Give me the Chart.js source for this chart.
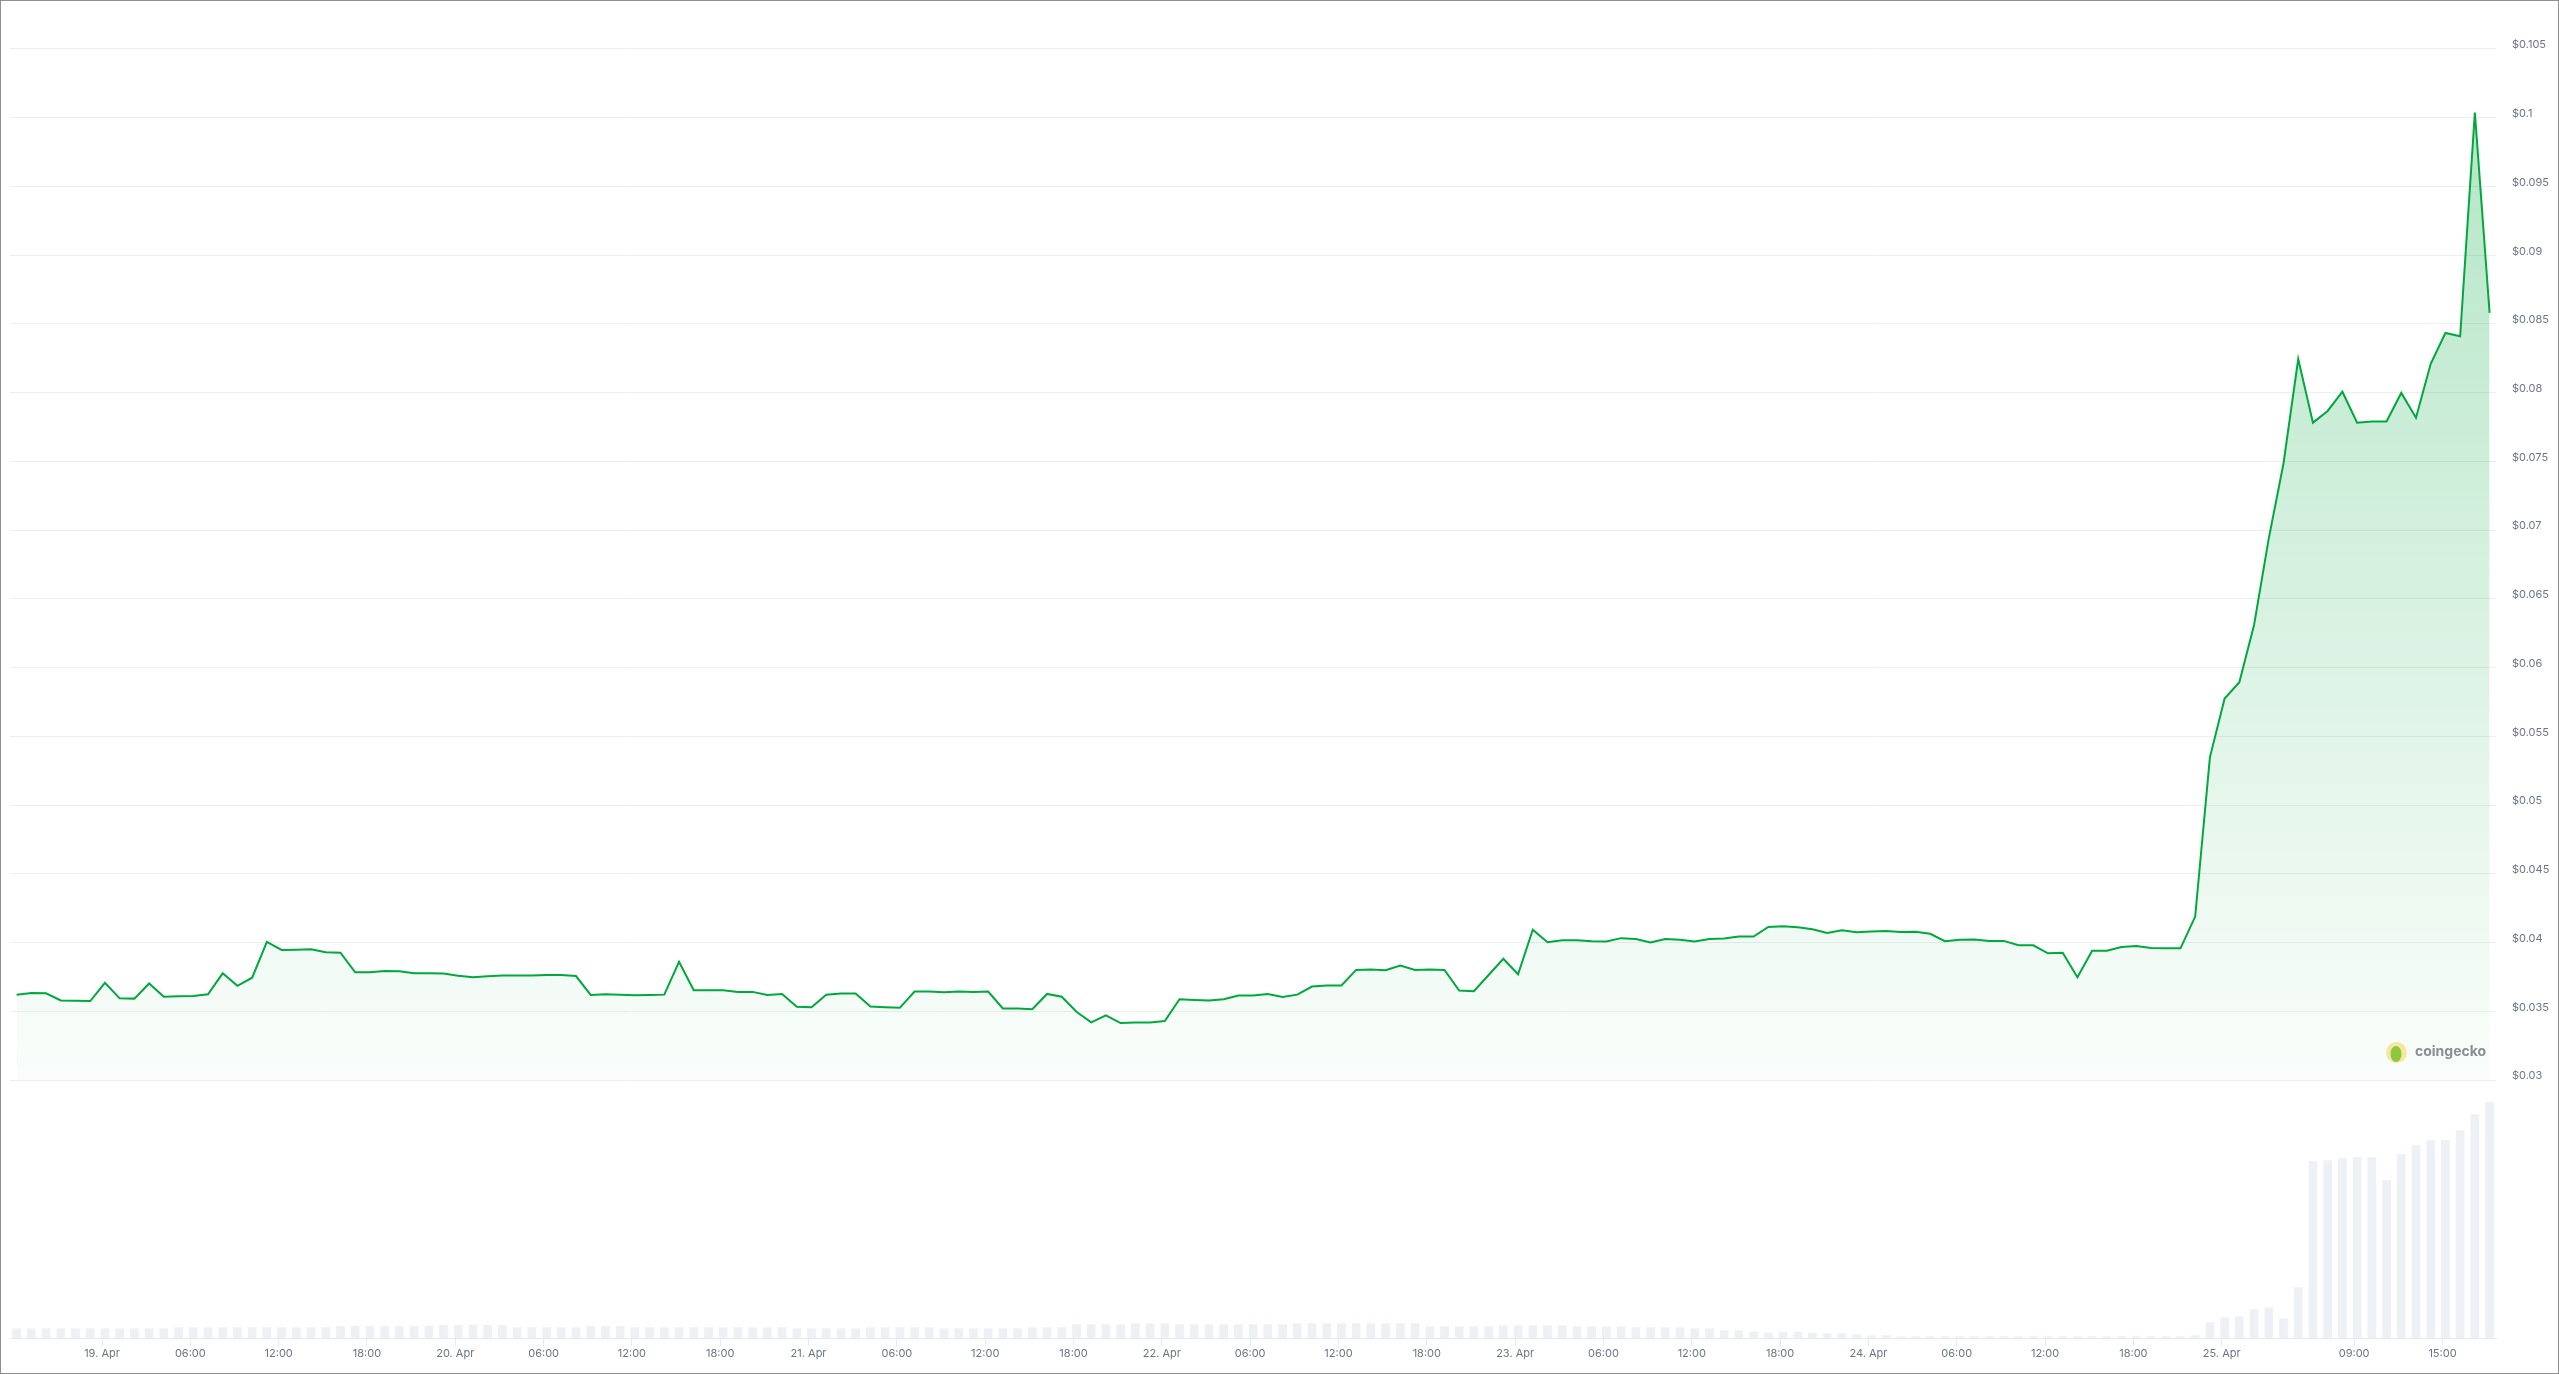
<!DOCTYPE html>
<html>
<head>
<meta charset="utf-8">
<title>Price chart</title>
<script src="https://cdn.jsdelivr.net/npm/chart.js@4.4.1/dist/chart.umd.min.js"></script>
<style>
html, body { margin: 0; padding: 0; background: #fff; }
#wrap { width: 2559px; height: 1374px; }
</style>
</head>
<body>
<div id="wrap"><canvas id="priceChart" width="2559" height="1374"></canvas></div>
<script>
// hourly samples, hours counted from 19 Apr 00:00 (first one is 18 Apr ~18:12)
const firstHour = -5.8;

const prices = [
    0.03621, 0.03633, 0.03631, 0.03579, 0.03577, 0.03574, 0.03707, 0.03594, 0.03592, 0.03702,
    0.03606, 0.03609, 0.03611, 0.03624, 0.03776, 0.03685, 0.03744, 0.04005, 0.03946, 0.03948,
    0.03951, 0.03929, 0.03926, 0.03783, 0.03783, 0.03793, 0.03791, 0.03776, 0.03776, 0.03774,
    0.03759, 0.03747, 0.03754, 0.03761, 0.03761, 0.03761, 0.03764, 0.03764, 0.03756, 0.03619,
    0.03624, 0.03621, 0.03616, 0.03619, 0.03621, 0.03860, 0.03653, 0.03653, 0.03653, 0.03641,
    0.03641, 0.03619, 0.03626, 0.03533, 0.03530, 0.03621, 0.03629, 0.03629, 0.03535, 0.03530,
    0.03525, 0.03643, 0.03643, 0.03638, 0.03643, 0.03641, 0.03643, 0.03520, 0.03520, 0.03515,
    0.03626, 0.03606, 0.03496, 0.03419, 0.03471, 0.03414, 0.03419, 0.03419, 0.03429, 0.03587,
    0.03582, 0.03579, 0.03587, 0.03614, 0.03614, 0.03626, 0.03604, 0.03621, 0.03680, 0.03688,
    0.03688, 0.03801, 0.03803, 0.03798, 0.03833, 0.03801, 0.03803, 0.03801, 0.03651, 0.03646,
    0.03764, 0.03882, 0.03769, 0.04093, 0.04002, 0.04017, 0.04017, 0.04010, 0.04007, 0.04032,
    0.04025, 0.04000, 0.04025, 0.04020, 0.04007, 0.04025, 0.04030, 0.04044, 0.04044, 0.04113,
    0.04118, 0.04111, 0.04096, 0.04069, 0.04089, 0.04074, 0.04081, 0.04084, 0.04076, 0.04078,
    0.04064, 0.04010, 0.04020, 0.04022, 0.04012, 0.04012, 0.03980, 0.03980, 0.03922, 0.03926,
    0.03748, 0.03941, 0.03941, 0.03968, 0.03975, 0.03961, 0.03958, 0.03958, 0.04189, 0.05347,
    0.05775, 0.05894, 0.06310, 0.06940, 0.07485, 0.08245, 0.07782, 0.07867, 0.08007, 0.07782,
    0.07790, 0.07790, 0.07998, 0.07817, 0.08210, 0.08434, 0.08410, 0.10038, 0.08580
];

// traded volume per hour (thousand $)
const volumes = [
    93, 93, 93, 93, 93, 93, 93, 93, 93, 93,
    93, 103, 103, 103, 103, 103, 103, 103, 103, 103,
    103, 103, 117, 117, 117, 117, 117, 117, 117, 127,
    127, 127, 127, 127, 103, 103, 103, 103, 103, 117,
    117, 117, 103, 103, 103, 103, 103, 103, 103, 103,
    103, 103, 103, 93, 93, 93, 93, 93, 103, 103,
    103, 103, 103, 93, 93, 93, 93, 93, 93, 103,
    103, 103, 133, 133, 133, 133, 143, 143, 143, 133,
    133, 133, 133, 133, 133, 133, 133, 143, 143, 143,
    143, 143, 143, 143, 143, 143, 113, 113, 113, 113,
    113, 123, 123, 123, 123, 123, 113, 113, 113, 113,
    103, 103, 103, 103, 93, 93, 73, 73, 60, 50,
    60, 60, 50, 43, 43, 33, 23, 23, 13, 13,
    13, 13, 13, 13, 13, 13, 13, 13, 13, 13,
    13, 13, 13, 13, 13, 13, 13, 13, 23, 153,
    203, 213, 283, 303, 193, 503, 1763, 1773, 1793, 1803,
    1803, 1573, 1833, 1923, 1973, 1973, 2073, 2233, 2357
];

const xTickHours = [0, 6, 12, 18, 24, 30, 36, 42, 48, 54, 60, 66, 72, 78, 84, 90, 96, 102, 108, 114, 120, 126, 132, 138, 144, 153, 159];
const xTickLabels = ["19. Apr", "06:00", "12:00", "18:00", "20. Apr", "06:00", "12:00", "18:00", "21. Apr", "06:00", "12:00", "18:00",
    "22. Apr", "06:00", "12:00", "18:00", "23. Apr", "06:00", "12:00", "18:00", "24. Apr", "06:00", "12:00", "18:00", "25. Apr", "09:00", "15:00"];

const priceTicks = [0.03, 0.035, 0.04, 0.045, 0.05, 0.055, 0.06, 0.065, 0.07, 0.075, 0.08, 0.085, 0.09, 0.095, 0.1, 0.105];
const priceTickLabels = ["$0.03", "$0.035", "$0.04", "$0.045", "$0.05", "$0.055", "$0.06", "$0.065", "$0.07", "$0.075",
    "$0.08", "$0.085", "$0.09", "$0.095", "$0.1", "$0.105"];

// layout (pixels)
const W = 2559, H = 1374;
const area = { left: 10, right: 2496, top: 10, bottom: 1338 };
const hour0X = 102, pxPerHour = 14.72;
const y030 = 1080, y105 = 49;
const tallestBarPx = 235.7;

const pxPerDollar = (y030 - y105) / (0.105 - 0.03);
const priceMax = 0.105 + (y105 - area.top) / pxPerDollar;
const priceMin = 0.03 - (area.bottom - y030) / pxPerDollar;
const volMax = Math.max(...volumes) * (area.bottom - area.top) / tallestBarPx;

const pricePoints = prices.map((p, i) => ({ x: firstHour + i, y: p }));
const volumePoints = volumes.map((v, i) => ({ x: firstHour + i, y: v }));

const labelColor = "#6b7585";
const tickFont = { family: "Inter", size: 11 };

const frame = {
    id: "frame",
    beforeDraw: (chart) => {
        const c = chart.ctx;
        c.save();
        c.fillStyle = "#fff";
        c.fillRect(0, 0, W, H);
        c.restore();
    },
    afterDraw: (chart) => {
        const c = chart.ctx;
        c.save();
        // coingecko watermark
        c.fillStyle = "#f6e7a0";
        c.beginPath();
        c.arc(2396.5, 1052.5, 10.5, 0, Math.PI * 2);
        c.fill();
        c.fillStyle = "#8dc63f";
        c.beginPath();
        c.ellipse(2396, 1054, 5.5, 8, 0, 0, Math.PI * 2);
        c.fill();
        c.fillStyle = "#8a8d91";
        c.font = "bold 14px Inter";
        c.textBaseline = "middle";
        c.fillText("coingecko", 2415, 1052);
        // outer border
        c.strokeStyle = "#8f8f8f";
        c.lineWidth = 1;
        c.strokeRect(0.5, 0.5, W - 1, H - 1);
        c.restore();
    },
};

const chart = new Chart(document.getElementById("priceChart"), {
    type: "line",
    data: {
        datasets: [
            {
                type: "line",
                label: "Price",
                data: pricePoints,
                yAxisID: "y",
                borderColor: "#00a83e",
                borderWidth: 2,
                pointRadius: 0,
                tension: 0,
                fill: { value: 0.03 },
                backgroundColor: (ctx) => {
                    const ch = ctx.chart;
                    if (!ch.chartArea) return "rgba(0,168,62,0.1)";
                    const g = ch.ctx.createLinearGradient(0, ch.chartArea.top, 0, y030);
                    g.addColorStop(0, "rgba(0,168,62,0.32)");
                    g.addColorStop(1, "rgba(0,168,62,0.02)");
                    return g;
                },
                order: 0,
            },
            {
                type: "bar",
                label: "Volume",
                data: volumePoints,
                yAxisID: "yv",
                backgroundColor: "#edf0f4",
                barThickness: 8,
                order: 1,
            },
        ],
    },
    options: {
        responsive: false,
        devicePixelRatio: 1,
        animation: false,
        layout: { padding: { left: area.left, top: area.top, right: 0, bottom: 0 } },
        plugins: { legend: { display: false }, tooltip: { enabled: false } },
        scales: {
            x: {
                type: "linear",
                offset: false,
                min: (area.left - hour0X) / pxPerHour,
                max: (area.right - hour0X) / pxPerHour,
                afterBuildTicks: (scale) => {
                    scale.ticks = xTickHours.map((h) => ({ value: h }));
                },
                afterFit: (scale) => {
                    scale.height = H - area.bottom;
                    scale.paddingLeft = 0;
                    scale.paddingRight = 0;
                },
                ticks: {
                    autoSkip: false,
                    maxRotation: 0,
                    padding: 1,
                    color: labelColor,
                    font: tickFont,
                    callback: (v, i) => xTickLabels[i],
                },
                grid: { offset: false, drawOnChartArea: false, drawTicks: true, tickLength: 8, color: "#e6e9ef" },
                border: { display: true, color: "#e6e9ef" },
            },
            y: {
                type: "linear",
                position: "right",
                min: priceMin,
                max: priceMax,
                afterBuildTicks: (scale) => {
                    scale.ticks = priceTicks.map((v) => ({ value: v }));
                },
                afterFit: (scale) => {
                    scale.width = W - area.right;
                    scale.paddingTop = 0;
                    scale.paddingBottom = 0;
                },
                ticks: {
                    padding: 16,
                    labelOffset: -4,
                    color: labelColor,
                    font: tickFont,
                    callback: (v, i) => priceTickLabels[i],
                },
                grid: { drawTicks: false, color: "#eeeeee" },
                border: { display: false },
            },
            yv: {
                type: "linear",
                display: false,
                min: 0,
                max: volMax,
            },
        },
    },
    plugins: [frame],
});
</script>
</body>
</html>
